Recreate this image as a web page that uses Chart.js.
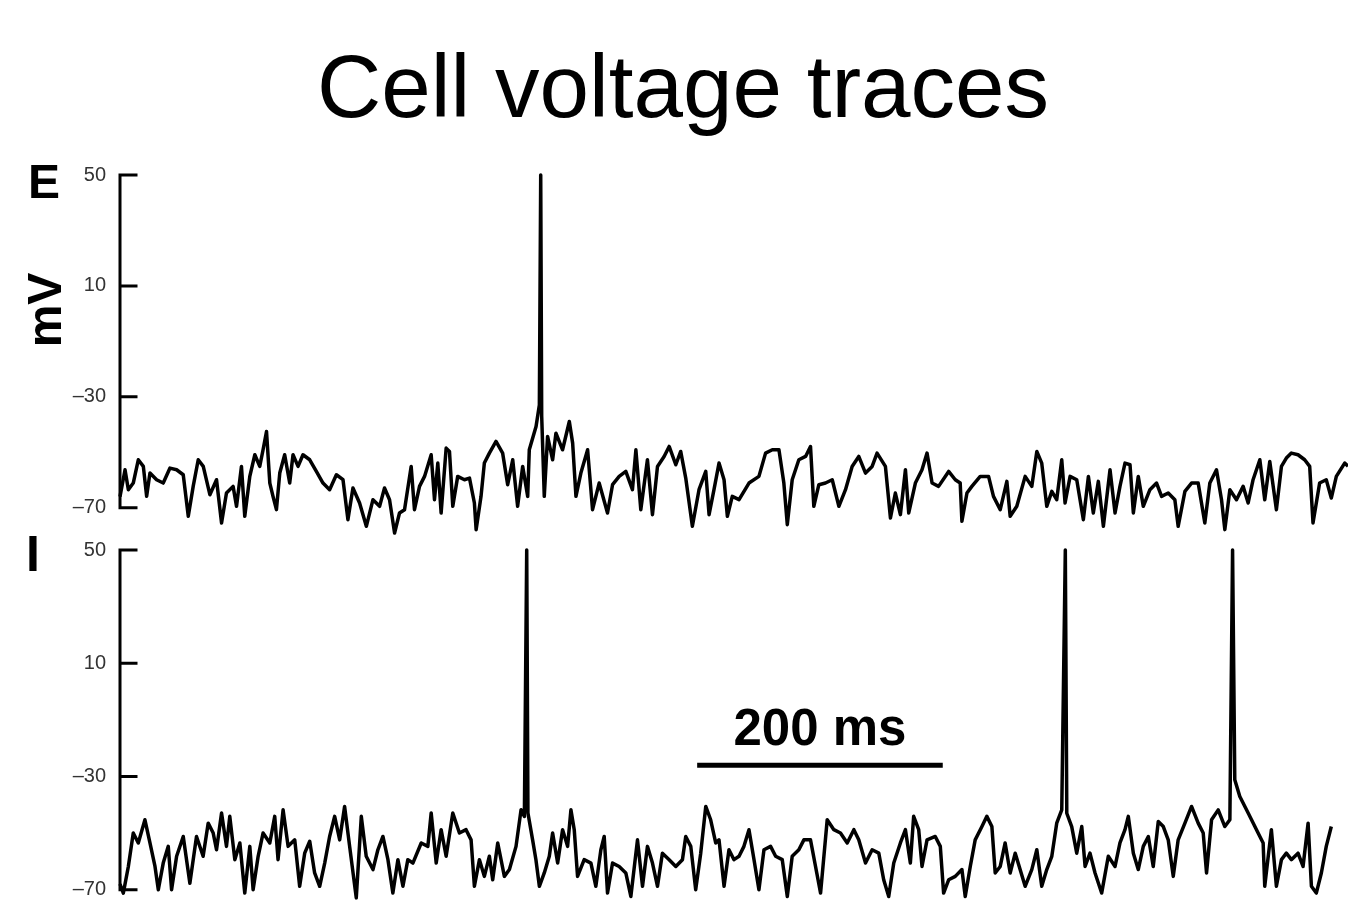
<!DOCTYPE html>
<html>
<head>
<meta charset="utf-8">
<title>Cell voltage traces</title>
<script src="https://cdn.jsdelivr.net/npm/chart.js@4.4.1/dist/chart.umd.min.js"></script>
<style>
  html, body { margin: 0; padding: 0; background: #fff; }
  body { width: 1348px; height: 901px; overflow: hidden; position: relative; }
  canvas { position: absolute; left: 0; }
  #chartE { top: 0; }
  #chartI { top: 520px; }
</style>
</head>
<body>
<canvas id="chartE" width="1348" height="571"></canvas>
<canvas id="chartI" width="1348" height="411"></canvas>
<script>
// Zeit in ms, Spannung in mV
const tickValues = [50, 10, -30, -70];
const tickLabels = ['50', '10', '\u201330', '\u201370'];

const eTimes = [0, 4.1, 6.8, 10.8, 14.9, 19.0, 21.7, 24.4, 29.8, 35.2, 40.7, 46.1, 51.5, 55.6, 59.6, 63.7, 67.8, 73.2, 78.6, 82.7,
  86.7, 92.1, 94.9, 98.9, 101.6, 105.7, 109.8, 113.8, 116.5, 119.3, 122, 124.6, 127.4, 130.1, 134.1, 138.2, 140.9, 145, 149, 154.5,
  159.9, 165.3, 170.7, 176.2, 181.6, 185.6, 189.7, 195.1, 200.6, 206, 211.4, 215.4, 219.5, 223.6, 227.6, 231.7, 237.1, 239.8, 243.9, 248,
  253.4, 256.1, 258.8, 261.5, 265.6, 268.3, 271, 275, 280.5, 284.6, 288.6, 290, 294, 296.7, 300.8, 306.2, 311.6, 315.7, 319.8, 323.8,
  327.9, 332, 333.3, 338.8, 341.5, 342.6, 343.4, 345.5, 348.2, 352.3, 355, 360.4, 365.9, 368.6, 371.3, 375.3, 380.8, 384.8, 390.2, 397,
  401.1, 406.5, 411.9, 417.3, 420.1, 424.1, 429.5, 433.6, 437.7, 443.1, 447.2, 452.6, 456.6, 460.7, 466.1, 471.5, 477, 479.7, 483.7, 487.8,
  491.9, 494.6, 498.6, 504.1, 512.2, 520.3, 525.7, 531.2, 536.6, 540.6, 543.4, 547.4, 552.8, 558.3, 562.3, 565, 569.1, 574.5, 580, 585.4,
  590.8, 596.2, 601.6, 607.1, 612.5, 616.5, 623.3, 627.4, 631.4, 635.5, 639.6, 642.3, 647.7, 653.1, 657.2, 661.3, 666.6, 674.8, 680.2, 684.2,
  685.6, 689.7, 693.7, 700.5, 707.3, 711.3, 716.8, 722.2, 724.9, 730.3, 737.1, 742.5, 746.6, 750.6, 754.7, 758.8, 762.8, 766.9, 769.6, 773.7,
  779.1, 784.5, 788.6, 792.6, 796.7, 800.8, 806.2, 810.3, 814.3, 818.4, 822.5, 825.2, 829.2, 833.3, 838.7, 844.1, 848.2, 853.6, 859, 861.7,
  867.2, 872.6, 878, 883.4, 887.5, 892.9, 897, 899.7, 903.8, 909.2, 914.6, 918.7, 922.7, 928.2, 932.2, 936.3, 941.7, 945.8, 949.8, 953.9,
  959.3, 964.7, 968.8, 971.5, 976.9, 982.3, 986.4, 990.5, 997.3, 1000];
const eVolts = [-66, -56.3, -63.5, -61.1, -52.7, -55.1, -65.9, -57.5, -59.9, -61.1, -55.7, -56.3, -58.1, -73.1, -62.3, -52.7, -55.1, -65.3, -59.9, -75.5,
  -64.7, -62.3, -69.5, -55.1, -73.1, -58.7, -50.9, -55.1, -49.1, -42.5, -61.1, -65.9, -70.7, -57.5, -50.9, -61.1, -50.9, -55.1, -50.9, -52.7,
  -56.9, -61.1, -63.5, -58.1, -59.9, -74.3, -62.9, -68.3, -76.7, -67.1, -69.5, -62.9, -67.1, -79.1, -71.9, -70.7, -55.1, -70.7, -62.3, -58.7,
  -50.9, -67.1, -53.9, -71.9, -48.5, -49.7, -69.5, -58.7, -59.9, -59.3, -68.3, -77.9, -65.9, -53.9, -50.3, -46.1, -50.3, -61.7, -52.7, -69.5,
  -55.1, -65.9, -49.1, -40.7, -33, 50, -37, -65.9, -44.3, -52.7, -43.1, -49.1, -38.9, -46.7, -65.9, -57.5, -49.1, -70.7, -61.1, -71.9,
  -61.7, -58.7, -56.9, -63.5, -49.1, -70.7, -52.7, -72.5, -55.1, -51.5, -47.9, -54.5, -49.7, -59.3, -76.7, -63.5, -56.9, -72.5, -63.5, -53.9,
  -59.9, -73.1, -65.9, -67.1, -61.1, -58.7, -50.3, -49.1, -49.1, -61.1, -76.1, -59.9, -52.7, -51.5, -47.9, -69.5, -61.7, -61.1, -59.9, -69.5,
  -63.5, -55.1, -51.5, -57.5, -55.1, -50.3, -55.1, -73.7, -64.7, -72.5, -56.3, -71.9, -61.1, -56.3, -50.3, -61.1, -62.3, -56.9, -59.9, -61.1,
  -74.9, -64.7, -62.3, -58.7, -58.7, -65.9, -70.7, -60.5, -73.1, -69.5, -58.7, -62.3, -49.7, -53.9, -69.5, -64.1, -67.1, -52.7, -68.3, -58.7,
  -59.9, -74.3, -58.7, -71.9, -60.5, -76.7, -56.3, -71.9, -62.3, -53.9, -54.5, -71.9, -58.7, -69.5, -63.5, -61.1, -65.9, -64.7, -67.1, -76.7,
  -64.1, -61.1, -61.1, -75.5, -61.1, -56.3, -67.1, -77.9, -63.5, -67.1, -62.3, -68.3, -59.9, -52.7, -67.1, -53.3, -70.7, -55.1, -52.1, -50.3,
  -50.9, -52.7, -55.1, -75.5, -61.1, -59.9, -66.5, -58.7, -53.9, -55];

const iTimes = [0, 2.7, 6.8, 10.8, 14.9, 20.3, 24.4, 28.5, 31.2, 35.2, 39.3, 42, 46.1, 51.5, 56.9, 62.3, 67.7, 71.8, 75.9, 78.6,
  82.7, 86.7, 89.4, 93.5, 97.6, 101.6, 105.7, 108.4, 112.5, 116.5, 122, 126, 128.7, 132.8, 136.9, 142.3, 146.3, 150.4, 154.5, 158.5,
  162.6, 166.7, 170.7, 174.8, 178.9, 182.9, 187, 192.4, 196.5, 200.5, 206, 210, 214.1, 218.2, 222.2, 226.3, 230.4, 234.4, 238.5, 245.3,
  250.7, 253.4, 257.5, 261.5, 265.6, 271, 276.4, 281.8, 285.9, 288.6, 292.7, 296.7, 300.8, 303.5, 307.6, 313, 317.1, 322.5, 326.6, 329.3,
  331.2, 332.2, 336, 338.7, 341.5, 345.5, 349.6, 352.3, 356.4, 360.4, 364.5, 367.2, 369.9, 372.6, 378, 383.5, 387.5, 391.6, 394.3, 397,
  401.1, 406.5, 411.9, 416, 421.4, 425.5, 429.5, 433.6, 437.7, 441.7, 447.2, 452.6, 458, 460.7, 464.8, 468.8, 472.9, 477, 481, 485.1,
  487.8, 491.9, 495.9, 500, 504.1, 508.1, 512.2, 516.3, 520.3, 524.4, 529.8, 533.9, 539.3, 543.4, 547.4, 552.8, 556.9, 562.3, 566.4, 570.5,
  575.9, 581.3, 586.7, 592.2, 597.6, 601.6, 607.1, 612.5, 617.9, 621.9, 626, 630.1, 635.5, 639.6, 643.6, 646.3, 650.4, 653.1, 657.2, 663.9,
  668, 670.7, 674.8, 680.2, 685.6, 688.3, 692.4, 696.4, 701.9, 705.9, 710, 712.7, 716.8, 720.8, 724.9, 729, 733, 737.1, 742.5, 746.6,
  750.6, 754.7, 758.8, 762.8, 766.9, 769.8, 771, 775, 779.1, 783.2, 785.9, 789.9, 794, 799.4, 804.8, 810.3, 814.3, 818.4, 821.1, 825.2,
  829.2, 833.3, 837.4, 841.4, 845.5, 849.6, 853.6, 857.7, 861.7, 867.2, 872.6, 878, 882.1, 884.8, 888.9, 894.3, 899.7, 903.8, 906, 907.8,
  911.9, 918.7, 926.8, 930.9, 932.2, 937.6, 941.7, 945.8, 949.8, 953.9, 959.3, 963.4, 967.5, 970.2, 974.2, 978.3, 982.3, 986.4];
const iVolts = [-68, -71.2, -61.8, -50.0, -53.5, -45.3, -53.5, -61.8, -70.0, -60.6, -54.7, -70.0, -58.2, -51.2, -67.7, -51.2, -58.2, -46.5, -50.0, -55.9,
  -42.9, -54.7, -44.1, -59.4, -53.5, -71.2, -54.7, -70.0, -58.2, -50.0, -53.5, -44.1, -59.4, -41.8, -54.7, -52.4, -68.8, -57.1, -52.9, -64.1,
  -68.8, -60.6, -51.2, -44.1, -52.4, -40.6, -54.7, -72.9, -44.1, -58.2, -62.9, -55.9, -51.2, -59.4, -71.2, -59.4, -68.8, -59.4, -60.6, -53.5,
  -54.7, -42.9, -60.6, -48.8, -58.2, -42.9, -50.0, -48.8, -52.4, -68.8, -59.4, -65.3, -58.2, -66.5, -53.5, -65.3, -62.9, -54.7, -41.8, -44.1,
  50, -42.9, -52.4, -59.4, -68.8, -64.1, -58.2, -50.0, -60.6, -48.8, -54.7, -41.8, -48.8, -65.3, -59.4, -60.6, -68.8, -55.9, -51.2, -71.2,
  -60.6, -61.8, -64.1, -72.4, -52.4, -68.8, -54.7, -60.6, -68.8, -57.1, -59.4, -61.8, -59.4, -51.2, -54.7, -70.0, -57.1, -40.6, -45.3, -53.5,
  -52.4, -68.8, -55.9, -59.4, -58.2, -54.7, -48.8, -59.4, -70.0, -55.9, -54.7, -58.2, -59.4, -72.4, -58.2, -55.9, -52.4, -52.4, -61.8, -71.2,
  -45.3, -48.8, -50.0, -53.5, -48.8, -52.4, -60.6, -55.9, -57.1, -66.5, -72.4, -60.6, -53.5, -48.8, -60.6, -44.1, -48.8, -61.8, -52.4, -51.2,
  -54.7, -71.2, -66.5, -65.3, -62.9, -72.4, -61.8, -52.4, -47.7, -44.1, -47.7, -64.1, -61.8, -53.5, -64.1, -57.1, -62.9, -68.8, -62.9, -55.9,
  -68.8, -62.9, -58.2, -46.5, -41.8, 50, -43.0, -47.7, -57.1, -47.7, -61.8, -57.1, -64.1, -71.2, -58.2, -61.8, -53.5, -48.8, -44.1, -57.1,
  -62.9, -54.7, -51.2, -61.8, -45.9, -47.7, -52.4, -65.3, -52.4, -46.5, -40.6, -46.5, -50.0, -64.1, -45.3, -41.8, -47.7, -45.3, 50, -31.2,
  -37.1, -42.9, -50.0, -53.5, -68.8, -48.8, -68.8, -59.4, -57.1, -59.4, -57.1, -61.8, -46.5, -68.8, -71.2, -64.1, -54.7, -47.7];

// Maßstabsbalken 200 ms
const scaleBarTimes = [470, 670];
const scaleBarLevel = -26;
const scaleBarLabel = '200 ms';

const chartTitle = 'Cell voltage traces';
const FONT = '"Liberation Sans", Arial, Helvetica, sans-serif';

function toPoints(xs, ys) {
  return xs.map((x, i) => ({ x: x, y: ys[i] }));
}

// Achse mit nach innen zeigenden Strichen, nur von 50 bis -70
const axisPlugin = {
  id: 'innerAxis',
  afterDatasetsDraw(chart) {
    const { ctx, scales: { x, y } } = chart;
    const left = x.left;
    ctx.save();
    ctx.strokeStyle = '#000';
    ctx.lineWidth = 3;
    ctx.lineCap = 'square';
    ctx.beginPath();
    ctx.moveTo(left, y.getPixelForValue(tickValues[0]));
    ctx.lineTo(left, y.getPixelForValue(tickValues[tickValues.length - 1]));
    tickValues.forEach(v => {
      const py = y.getPixelForValue(v);
      ctx.moveTo(left, py);
      ctx.lineTo(left + 16, py);
    });
    ctx.stroke();
    ctx.restore();
  }
};

// Texte: Titel, E, mV, I, 200 ms
const labelPlugin = {
  id: 'labels',
  afterDraw(chart) {
    const ctx = chart.ctx;
    const id = chart.canvas.id;
    ctx.save();
    ctx.fillStyle = '#000';
    if (id === 'chartE') {
      ctx.textAlign = 'center';
      ctx.textBaseline = 'alphabetic';
      ctx.font = '89px ' + FONT;
      ctx.fillText(chartTitle, 683, 117);
      ctx.font = 'bold 48px ' + FONT;
      ctx.fillText('E', 44, 198);
      ctx.translate(44, 310);
      ctx.rotate(-Math.PI / 2);
      ctx.fillText('mV', 0, 17);
    } else {
      const { x, y } = chart.scales;
      ctx.textAlign = 'center';
      ctx.textBaseline = 'alphabetic';
      ctx.font = 'bold 50px ' + FONT;
      ctx.fillText('I', 33, 51);
      ctx.font = 'bold 51px ' + FONT;
      const cx = x.getPixelForValue((scaleBarTimes[0] + scaleBarTimes[1]) / 2);
      ctx.fillText(scaleBarLabel, cx, y.getPixelForValue(scaleBarLevel) - 20);
    }
    ctx.restore();
  }
};

function makeOptions(yMin, padTop) {
  return {
    responsive: false,
    animation: false,
    layout: { padding: { top: padTop, bottom: 30, left: 0, right: 0 } },
    plugins: { legend: { display: false }, tooltip: { enabled: false }, title: { display: false } },
    elements: { point: { radius: 0 }, line: { tension: 0 } },
    scales: {
      x: { type: 'linear', min: 0, max: 1000, display: false },
      y: {
        min: yMin,
        max: 50,
        afterBuildTicks: s => { s.ticks = tickValues.map(v => ({ value: v })); },
        afterFit: s => { s.width = 120; },
        grid: { display: false, drawTicks: false },
        border: { display: false },
        ticks: {
          padding: 14,
          color: '#333',
          font: { family: FONT, size: 20 },
          callback: (v, i) => tickLabels[i]
        }
      }
    }
  };
}

function traceSet(points) {
  return {
    data: points,
    borderColor: '#000',
    borderWidth: 3.5,
    borderJoinStyle: 'round',
    fill: false,
    clip: false
  };
}

new Chart(document.getElementById('chartE'), {
  type: 'line',
  data: { datasets: [traceSet(toPoints(eTimes, eVolts))] },
  options: makeOptions(-82, 175),
  plugins: [axisPlugin, labelPlugin]
});

new Chart(document.getElementById('chartI'), {
  type: 'line',
  data: {
    datasets: [
      traceSet(toPoints(iTimes, iVolts)),
      {
        data: toPoints(scaleBarTimes, [scaleBarLevel, scaleBarLevel]),
        borderColor: '#000',
        borderWidth: 5,
        borderCapStyle: 'butt',
        fill: false,
        clip: false
      }
    ]
  },
  options: makeOptions(-74, 30),
  plugins: [axisPlugin, labelPlugin]
});
</script>
</body>
</html>
